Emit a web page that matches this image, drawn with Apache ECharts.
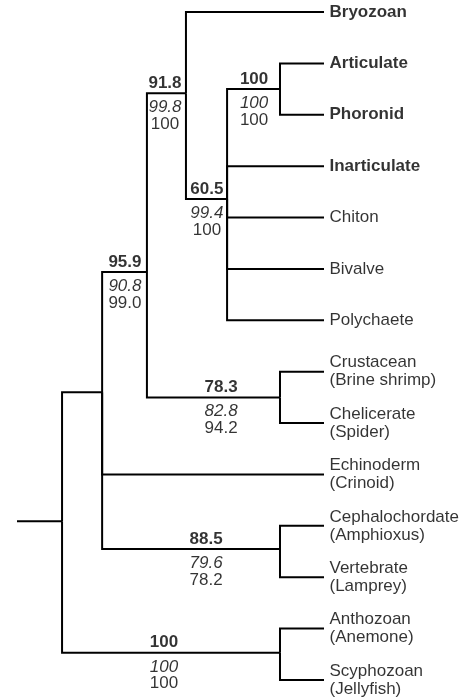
<!DOCTYPE html>
<html>
<head>
<meta charset="utf-8">
<script src="https://cdn.jsdelivr.net/npm/echarts@6/dist/echarts.min.js"></script>
<style>html,body{margin:0;padding:0;background:#fff}#c{width:474px;height:699px}</style>
</head>
<body>
<div id="c"></div>
<script>
// Leaves (top to bottom), parent node and bold flag
const leafNames = ['Bryozoan','Articulate','Phoronid','Inarticulate','Chiton','Bivalve','Polychaete',
  'Crustacean\n(Brine shrimp)','Chelicerate\n(Spider)','Echinoderm\n(Crinoid)',
  'Cephalochordate\n(Amphioxus)','Vertebrate\n(Lamprey)','Anthozoan\n(Anemone)','Scyphozoan\n(Jellyfish)'];
const leafParents = ['n918','nAP','nAP','n605','n605','n605','n605','n783','n783','bilat','n885','n885','nCn','nCn'];
const leafBold = [true,true,true,true,false,false,false,false,false,false,false,false,false,false];
const leafDepth = 100;

// Internal nodes: id, depth (root = 0, tips = 100), vertical position (in leaf rows), parent
const nodeIds    = ['root','bilat','n959','n918','n605','nAP','n783','n885','nCn'];
const nodeDepths = [0, 15.3, 32.4, 47.3, 63.0, 83.2, 83.2, 83.2, 83.2];
const nodeRows   = [9.91, 7.40, 5.06, 1.58, 3.64, 1.5, 7.5, 10.45, 12.47];
const nodeParents= [null,'root','bilat','n959','n918','n605','n959','bilat','root'];
const rootStemDepth = -17.2;

// Support values at nodes: [node, label anchor depth, bold value, italic value, plain value]
const supportNodes  = ['n918','n605','nAP','n959','n783','n885','nCn'];
const supportAnchor = [39.3, 55.3, 73.3, 24.0, 60.7, 55.0, 38.9];
const supportBold   = ['91.8','60.5','100','95.9','78.3','88.5','100'];
const supportItalic = ['99.8','99.4','100','90.8','82.8','79.6','100'];
const supportPlain  = ['100','100','100','99.0','94.2','78.2','100'];

const FONT = '"Liberation Sans", Arial, Helvetica, sans-serif';
const idx = id => nodeIds.indexOf(id);
const segs = [];
function edge(px, py, cx, cy){ segs.push({coords: [[px, py], [px, cy], [cx, cy]]}); }
nodeIds.forEach((id, i) => {
  const p = nodeParents[i];
  if (p) { const j = idx(p); edge(nodeDepths[j], nodeRows[j], nodeDepths[i], nodeRows[i]); }
});
leafNames.forEach((n, i) => {
  const j = idx(leafParents[i]);
  edge(nodeDepths[j], nodeRows[j], leafDepth, i);
});
segs.push({coords: [[rootStemDepth, nodeRows[0]], [nodeDepths[0], nodeRows[0]]]});

const leafData = leafNames.map((n, i) => ({
  value: [leafDepth, i], name: n,
  label: {fontWeight: leafBold[i] ? 'bold' : 'normal'}
}));
function supportSeries(vals, dy, style, weight){
  return {
    type: 'scatter', symbolSize: 1, itemStyle: {color: 'rgba(0,0,0,0)'}, silent: true,
    data: supportNodes.map((id, k) => ({value: [supportAnchor[k], nodeRows[idx(id)]], name: vals[k]})),
    label: {show: true, position: 'inside', offset: [0, dy], formatter: '{b}', color: '#000',
      fontFamily: FONT, fontSize: 17, fontStyle: style, fontWeight: weight, align: 'center', verticalAlign: 'middle'}
  };
}

const chart = echarts.init(document.getElementById('c'), null, {renderer: 'canvas'});
chart.setOption({
  animation: false,
  backgroundColor: '#fff',
  grid: {left: 17, right: 150, top: 12, bottom: 19},
  xAxis: {type: 'value', min: rootStemDepth, max: 100, show: false},
  yAxis: {type: 'value', min: 0, max: 13, inverse: true, show: false},
  series: [
    {type: 'lines', coordinateSystem: 'cartesian2d', polyline: true, silent: true,
     lineStyle: {color: '#000', width: 2, opacity: 1}, data: segs},
    {type: 'scatter', symbolSize: 1, itemStyle: {color: 'rgba(0,0,0,0)'}, silent: true, data: leafData,
     label: {show: true, position: 'right', distance: 5, formatter: '{b}', color: '#000',
       fontFamily: FONT, fontSize: 17, lineHeight: 18, align: 'left', verticalAlign: 'middle'}},
    supportSeries(supportBold, -10, 'normal', 'bold'),
    supportSeries(supportItalic, 14, 'italic', 'normal'),
    supportSeries(supportPlain, 31, 'normal', 'normal')
  ]
});
</script>
</body>
</html>
